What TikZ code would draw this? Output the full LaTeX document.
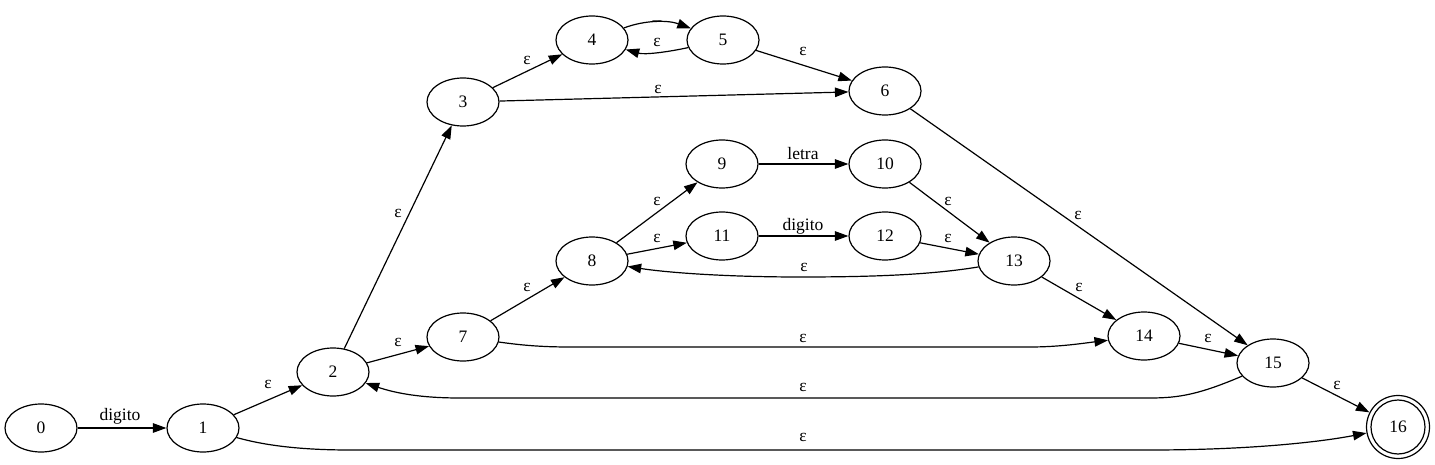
\documentclass[tikz,border=0pt]{standalone}
\usepackage{fontspec}
\setmainfont{Liberation Serif}
\usetikzlibrary{arrows.meta,shapes.geometric}
\begin{document}
\begin{tikzpicture}[x=1pt,y=-1pt,
  st/.style={draw, ellipse, minimum width=72pt, minimum height=48pt, inner sep=0pt, line width=1.2pt, font=\fontsize{17.5}{20}\selectfont},
  fin/.style={draw, circle, minimum size=63pt, inner sep=0pt, line width=1.2pt, font=\fontsize{17.5}{20}\selectfont},
  lbl/.style={inner sep=0pt, font=\fontsize{17.5}{20}\selectfont},
  arr/.style={line width=1.2pt, -{Triangle[length=13.5pt,width=9.5pt]}}]
\useasboundingbox (0,0) rectangle (1435,465);
% states
\node[st] (n0) at (41,428) {0};
\node[st] (n1) at (203,428) {1};
\node[st] (n2) at (333,372) {2};
\node[st] (n3) at (463,102) {3};
\node[st] (n4) at (592,40) {4};
\node[st] (n5) at (723,40) {5};
\node[st] (n6) at (885,91) {6};
\node[st] (n7) at (463,337) {7};
\node[st] (n8) at (592,261) {8};
\node[st] (n9) at (722,164) {9};
\node[st] (n10) at (885,164) {10};
\node[st] (n11) at (722,236) {11};
\node[st] (n12) at (885,236) {12};
\node[st] (n13) at (1014,261) {13};
\node[st] (n14) at (1144,336) {14};
\node[st] (n15) at (1273,363) {15};
\node[fin] (n16) at (1398,427) {16};
\draw[line width=1.2pt] (n16.center) circle[radius=27];
% edges
\draw[arr] (n0) -- (n1);
\draw[arr] (n1) -- (n2);
\draw[arr] (n1) .. controls (270,447) and (310,450) .. (350,450) -- (1150,450) .. controls (1250,450) and (1320,442) .. (n16);
\draw[arr] (n2) -- (n3);
\draw[arr] (n2) -- (n7);
\draw[arr] (n3) -- (n4);
\draw[arr] (n3) -- (n6);
\draw[arr] (n4) .. controls (645,20) and (668,20) .. (n5);
\draw[arr] (n5) .. controls (668,52) and (645,55) .. (n4);
\draw[arr] (n5) -- (n6);
\draw[arr] (n6) -- (n15);
\draw[arr] (n7) -- (n8);
\draw[arr] (n7) .. controls (520,345) and (540,347) .. (570,347) -- (1030,347) .. controls (1060,347) and (1085,343) .. (n14);
\draw[arr] (n8) -- (n9);
\draw[arr] (n8) -- (n11);
\draw[arr] (n9) -- (n10);
\draw[arr] (n11) -- (n12);
\draw[arr] (n10) -- (n13);
\draw[arr] (n12) -- (n13);
\draw[arr] (n13) .. controls (930,275) and (870,277) .. (800,277) .. controls (730,277) and (670,273) .. (n8);
\draw[arr] (n13) -- (n14);
\draw[arr] (n14) -- (n15);
\draw[arr] (n15) .. controls (1200,394) and (1180,398) .. (1150,398) -- (460,398) .. controls (420,398) and (395,393) .. (n2);
\draw[arr] (n15) -- (n16);
% labels
\node[lbl] (l01) at (120,416) {digito};
\node[lbl] (l12) at (268,384) {ε};
\node[lbl] (l116) at (803,437) {ε};
\node[lbl] (l23) at (398,213) {ε};
\node[lbl] (l27) at (398,342) {ε};
\node[lbl] (l34) at (527,60) {ε};
\node[lbl] (l36) at (658,89) {ε};
\node[lbl] (l45) at (657,21) {\_};
\node[lbl] (l54) at (657,42) {ε};
\node[lbl] (l56) at (803,51) {ε};
\node[lbl] (l615) at (1078,215) {ε};
\node[lbl] (l78) at (527,287) {ε};
\node[lbl] (l714) at (803,338) {ε};
\node[lbl] (l89) at (657,201) {ε};
\node[lbl] (l811) at (657,238) {ε};
\node[lbl] (l910) at (803,154) {letra};
\node[lbl] (l1112) at (803,226) {digito};
\node[lbl] (l1013) at (948,201) {ε};
\node[lbl] (l1213) at (948,238) {ε};
\node[lbl] (l138) at (804,267) {ε};
\node[lbl] (l1314) at (1079,287) {ε};
\node[lbl] (l1415) at (1208,338) {ε};
\node[lbl] (l152) at (803,387) {ε};
\node[lbl] (l1516) at (1337,385) {ε};
\end{tikzpicture}
\end{document}
